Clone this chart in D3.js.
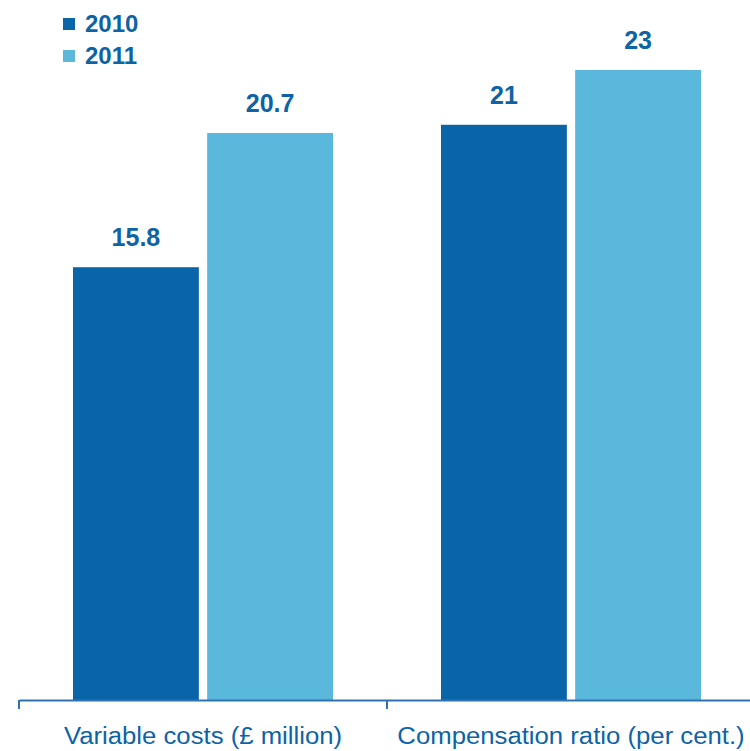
<!DOCTYPE html>
<html>
<head>
<meta charset="utf-8">
<script src="https://cdn.jsdelivr.net/npm/d3@7"></script>
<style>
  html, body { margin: 0; padding: 0; background: #fff; }
  svg { display: block; }
  text { font-family: "Liberation Sans", Arial, sans-serif; }
</style>
</head>
<body>
<svg id="chart" width="750" height="751"></svg>
<script>
// Chart data
const categories = ["Variable costs (£ million)", "Compensation ratio (per cent.)"];
const years = ["2010", "2011"];
const values2010 = [15.8, 21];
const values2011 = [20.7, 23];
const valueLabels2010 = ["15.8", "21"];
const valueLabels2011 = ["20.7", "23"];

const colors = { "2010": "#0a64a8", "2011": "#5ab8dd" };
const textColor = "#0d63a6";
const axisColor = "#2f72b3";

const svg = d3.select("#chart");
const baseline = 700;

const x0 = d3.scaleBand().domain(categories).range([19, 755]).paddingInner(0).paddingOuter(0);
const x1 = d3.scaleBand().domain(years).range([54, 314]).paddingInner(0.062);
const y = d3.scaleLinear().domain([0, 23]).range([baseline, 70]);

const rows = categories.map((c, i) => ({
  category: c,
  items: [
    { year: "2010", value: values2010[i], label: valueLabels2010[i] },
    { year: "2011", value: values2011[i], label: valueLabels2011[i] }
  ]
}));

const groups = svg.selectAll("g.group").data(rows).enter().append("g")
  .attr("class", "group")
  .attr("transform", d => `translate(${x0(d.category)},0)`);

groups.selectAll("rect").data(d => d.items).enter().append("rect")
  .attr("x", d => x1(d.year))
  .attr("width", x1.bandwidth())
  .attr("y", d => y(d.value))
  .attr("height", d => baseline - y(d.value))
  .attr("fill", d => colors[d.year]);

groups.selectAll("text.value").data(d => d.items).enter().append("text")
  .attr("class", "value")
  .attr("x", d => x1(d.year) + x1.bandwidth() / 2)
  .attr("y", d => y(d.value) - 21)
  .attr("text-anchor", "middle")
  .attr("font-size", 25)
  .attr("font-weight", "bold")
  .attr("fill", textColor)
  .text(d => d.label);

// Category axis along the baseline
const axis = d3.axisBottom(x0).tickSize(0).tickFormat("");
const axisG = svg.append("g").attr("transform", `translate(0,${baseline})`).call(axis);
axisG.select(".domain").attr("stroke", axisColor).attr("stroke-width", 2);
axisG.selectAll(".tick").remove();

// Boundary tick marks between categories
const boundaries = [x0.range()[0], x0(categories[1])];
svg.selectAll("line.sep").data(boundaries).enter().append("line")
  .attr("class", "sep")
  .attr("x1", d => d).attr("x2", d => d)
  .attr("y1", baseline).attr("y2", baseline + 9)
  .attr("stroke", axisColor).attr("stroke-width", 2);

// Category names, slightly widened
svg.selectAll("text.cat").data(categories).enter().append("text")
  .attr("class", "cat")
  .attr("transform", d => `translate(${x0(d) + x0.bandwidth() / 2},744) scale(1.05,1)`)
  .attr("text-anchor", "middle")
  .attr("font-size", 24.5)
  .attr("fill", textColor)
  .text(d => d);

// Legend
const legend = svg.selectAll("g.legend").data(years).enter().append("g")
  .attr("class", "legend")
  .attr("transform", (d, i) => `translate(63,${i * 32})`);
legend.append("rect")
  .attr("x", 0).attr("y", 18).attr("width", 12).attr("height", 12)
  .attr("fill", d => colors[d]);
legend.append("text")
  .attr("x", 22).attr("y", 32)
  .attr("font-size", 24).attr("font-weight", "bold")
  .attr("fill", textColor)
  .text(d => d);
</script>
</body>
</html>
